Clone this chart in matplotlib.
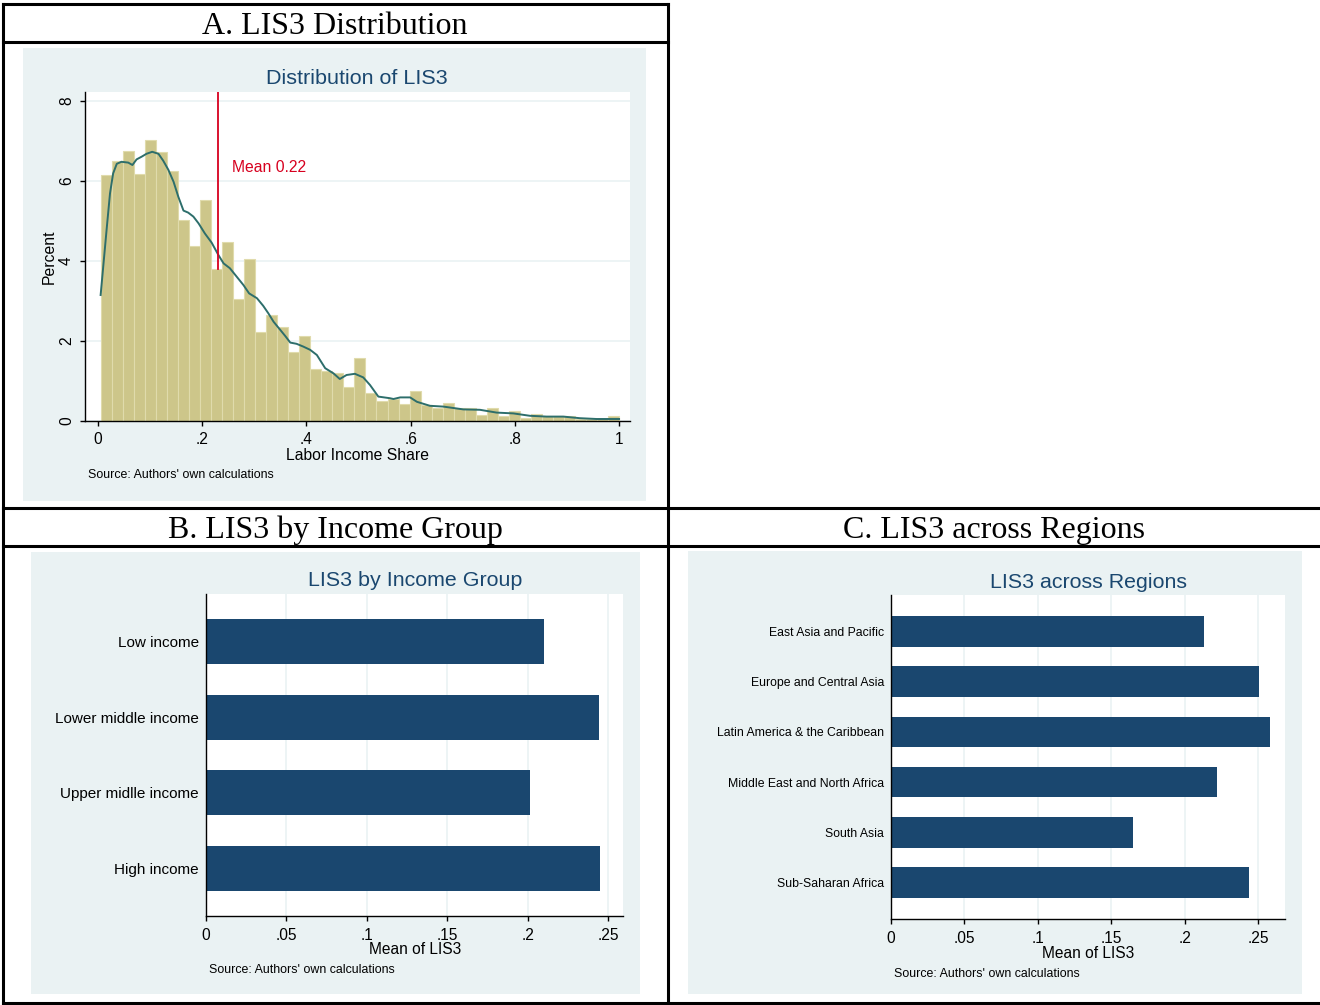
import matplotlib
matplotlib.use("Agg")
import matplotlib.pyplot as plt
from matplotlib.lines import Line2D
from matplotlib.patches import Rectangle

# ---- data ----
hist_bin_start = 0.0052
hist_bin_width = 0.02117
hist_percent = [
    6.15, 6.51, 6.75, 6.17, 7.02, 6.73, 6.26, 5.03, 4.38, 5.53,
    3.80, 4.48, 3.05, 4.04, 2.22, 2.65, 2.35, 1.73, 2.13, 1.30,
    1.26, 1.21, 0.84, 1.58, 0.70, 0.50, 0.56, 0.42, 0.75, 0.40,
    0.32, 0.45, 0.33, 0.32, 0.14, 0.33, 0.12, 0.25, 0.08, 0.17,
    0.12, 0.12, 0.12, 0.05, 0.05, 0.04, 0.13,
]
kde_x = [
    0.005, 0.010, 0.017, 0.023, 0.029, 0.036, 0.045, 0.058, 0.066, 0.074,
    0.084, 0.093, 0.104, 0.116, 0.125, 0.135, 0.145, 0.154, 0.164, 0.173,
    0.183, 0.193, 0.205, 0.218, 0.231, 0.241, 0.253, 0.266, 0.279, 0.290,
    0.305, 0.317, 0.327, 0.337, 0.349, 0.359, 0.369, 0.381, 0.394, 0.407,
    0.420, 0.436, 0.452, 0.464, 0.477, 0.493, 0.509, 0.522, 0.538, 0.560,
    0.567, 0.580, 0.599, 0.612, 0.637, 0.663, 0.701, 0.733, 0.765, 0.797,
    0.829, 0.861, 0.893, 0.925, 0.957, 1.000,
]
kde_y = [
    3.15, 3.86, 4.86, 5.69, 6.19, 6.43, 6.48, 6.46, 6.40, 6.54,
    6.61, 6.68, 6.73, 6.68, 6.51, 6.28, 5.98, 5.61, 5.26, 5.21,
    5.11, 4.94, 4.69, 4.46, 4.15, 3.94, 3.82, 3.61, 3.40, 3.19,
    3.07, 2.88, 2.69, 2.48, 2.29, 2.13, 1.96, 1.93, 1.86, 1.78,
    1.65, 1.32, 1.19, 1.05, 1.15, 1.18, 1.09, 0.90, 0.61, 0.57,
    0.55, 0.59, 0.59, 0.48, 0.38, 0.36, 0.29, 0.28, 0.21, 0.19,
    0.13, 0.11, 0.11, 0.07, 0.05, 0.05,
]
mean_line_x = 0.23
mean_line_bottom = 3.8
mean_label = "Mean 0.22"

income_groups = ["Low income", "Lower middle income", "Upper midlle income", "High income"]
income_means = [0.2099, 0.2442, 0.2012, 0.2447]

regions = [
    "East Asia and Pacific",
    "Europe and Central Asia",
    "Latin America & the Caribbean",
    "Middle East and North Africa",
    "South Asia",
    "Sub-Saharan Africa",
]
region_means = [0.2133, 0.2505, 0.2581, 0.2222, 0.1650, 0.2438]

bar_ticks = [0, 0.05, 0.10, 0.15, 0.20, 0.25]
bar_tick_labels = ["0", ".05", ".1", ".15", ".2", ".25"]
hist_xticks = [0, 0.2, 0.4, 0.6, 0.8, 1.0]
hist_xtick_labels = ["0", ".2", ".4", ".6", ".8", "1"]
hist_yticks = [0, 2, 4, 6, 8]

# ---- styling ----
W, H = 1320, 1005
BG = "#eaf2f3"
NAVY = "#1a476f"
KHAKI = "#cdc68a"
TEAL = "#2d6e6b"
RED = "#d7001f"
SANS = "Liberation Sans"
SERIF = "Liberation Serif"


def pt(px):
    return px * 0.72


def fig_rect(x0, y0, x1, y1):
    return [x0 / W, 1 - y1 / H, (x1 - x0) / W, (y1 - y0) / H]


def fig_text(fig, x, y, s, **kw):
    fig.text(x / W, 1 - y / H, s, **kw)


def fig_line(fig, x0, y0, x1, y1):
    fig.add_artist(Line2D([x0 / W, x1 / W], [1 - y0 / H, 1 - y1 / H],
                          transform=fig.transFigure, color="black", lw=2.2))


def panel_bg(fig, x0, y0, x1, y1):
    r = fig_rect(x0, y0, x1, y1)
    fig.add_artist(Rectangle((r[0], r[1]), r[2], r[3], transform=fig.transFigure,
                             facecolor=BG, edgecolor="none", zorder=0))


def style_axes(ax):
    for side in ("top", "right"):
        ax.spines[side].set_visible(False)
    for side in ("left", "bottom"):
        ax.spines[side].set_color("black")
        ax.spines[side].set_linewidth(1.0)


fig = plt.figure(figsize=(W / 100, H / 100), dpi=100)
fig.patch.set_facecolor("white")

# table borders
fig_line(fig, 3, 4, 668, 4)
fig_line(fig, 3, 42, 668, 42)
fig_line(fig, 3, 4, 3, 1003)
fig_line(fig, 668, 4, 668, 1003)
fig_line(fig, 3, 508, 1320, 508)
fig_line(fig, 3, 546, 1320, 546)
fig_line(fig, 3, 1003, 1320, 1003)

hdr = dict(family=SERIF, fontsize=pt(32), ha="center", va="center", color="black")
fig_text(fig, 335, 26, "A. LIS3 Distribution", **hdr)
fig_text(fig, 335, 530, "B. LIS3 by Income Group", **hdr)
fig_text(fig, 994, 530, "C. LIS3 across Regions", **hdr)

# ---------------- panel A ----------------
panel_bg(fig, 23, 48, 646, 501)
ax = fig.add_axes(fig_rect(85, 92, 630, 421))
style_axes(ax)
lefts = [hist_bin_start + i * hist_bin_width for i in range(len(hist_percent))]
ax.bar(lefts, hist_percent, width=hist_bin_width, align="edge",
       color=KHAKI, edgecolor="#e0dbac", linewidth=0.8, zorder=2)
ax.plot(kde_x, kde_y, color=TEAL, lw=1.4, zorder=3)
ax.plot([mean_line_x, mean_line_x], [mean_line_bottom, 8.3], color=RED, lw=1.3, zorder=4)
ax.text(0.257, 6.35, mean_label, color=RED, fontsize=pt(15.8), family=SANS,
        va="center", ha="left", zorder=5)
ax.set_xlim(-0.025, 1.021)
ax.set_ylim(0, 8.225)
ax.set_yticks(hist_yticks)
ax.set_yticklabels([str(v) for v in hist_yticks], rotation=90, va="center")
ax.set_xticks(hist_xticks)
ax.set_xticklabels(hist_xtick_labels)
ax.tick_params(axis="both", length=pt(5), width=1.0, labelsize=pt(15.5), color="black")
ax.tick_params(axis="y", pad=pt(6))
ax.tick_params(axis="x", pad=pt(6))
for lab in ax.get_xticklabels() + ax.get_yticklabels():
    lab.set_family(SANS)
ax.grid(axis="y", color=BG, lw=1.2, zorder=0)
ax.set_axisbelow(True)
fig_text(fig, 357, 78, "Distribution of LIS3", family=SANS, fontsize=pt(21.5),
         color=NAVY, ha="center", va="center")
fig_text(fig, 357, 455, "Labor Income Share", family=SANS, fontsize=pt(15.8),
         ha="center", va="center")
fig_text(fig, 49, 257, "Percent", family=SANS, fontsize=pt(15.8), rotation=90,
         ha="center", va="center")
fig_text(fig, 88, 475, "Source: Authors' own calculations", family=SANS,
         fontsize=pt(12.4), ha="left", va="center")


def bar_panel(rect, labels, values, xmax, pad_frac, label_px, height=0.6):
    ax = fig.add_axes(rect)
    style_axes(ax)
    pos = list(range(len(labels)))
    ax.barh(pos, values, height=height, color=NAVY, zorder=2)
    ax.set_ylim(len(labels) - 1 + 0.5 * height + pad_frac, -0.5 * height - pad_frac)
    ax.set_xlim(0, xmax)
    ax.set_yticks(pos)
    ax.set_yticklabels(labels)
    ax.set_xticks(bar_ticks)
    ax.set_xticklabels(bar_tick_labels)
    ax.tick_params(axis="y", length=0, pad=pt(7), labelsize=pt(label_px))
    ax.tick_params(axis="x", length=pt(5), width=1.0, pad=pt(7), labelsize=pt(15.5))
    for lab in ax.get_xticklabels() + ax.get_yticklabels():
        lab.set_family(SANS)
    ax.grid(axis="x", color=BG, lw=1.2, zorder=0)
    ax.set_axisbelow(True)
    return ax


# ---------------- panel B ----------------
panel_bg(fig, 31, 552, 640, 994)
bar_panel(fig_rect(206, 594, 623, 916), income_groups, income_means,
          0.2593, 0.33, 15.2)
fig_text(fig, 415, 581, "LIS3 by Income Group", family=SANS, fontsize=pt(21.4),
         color=NAVY, ha="center", va="center")
fig_text(fig, 415, 949, "Mean of LIS3", family=SANS, fontsize=pt(15.5),
         ha="center", va="center")
fig_text(fig, 209, 970, "Source: Authors' own calculations", family=SANS,
         fontsize=pt(12.4), ha="left", va="center")

# ---------------- panel C ----------------
panel_bg(fig, 688, 551, 1302, 994)
bar_panel(fig_rect(891, 595, 1285, 919), regions, region_means,
          0.2684, 0.42, 12.2, height=0.61)
fig_text(fig, 1088, 582, "LIS3 across Regions", family=SANS, fontsize=pt(21.4),
         color=NAVY, ha="center", va="center")
fig_text(fig, 1088, 953, "Mean of LIS3", family=SANS, fontsize=pt(15.5),
         ha="center", va="center")
fig_text(fig, 894, 974, "Source: Authors' own calculations", family=SANS,
         fontsize=pt(12.4), ha="left", va="center")

fig.savefig("out.png", dpi=100, facecolor="white")
